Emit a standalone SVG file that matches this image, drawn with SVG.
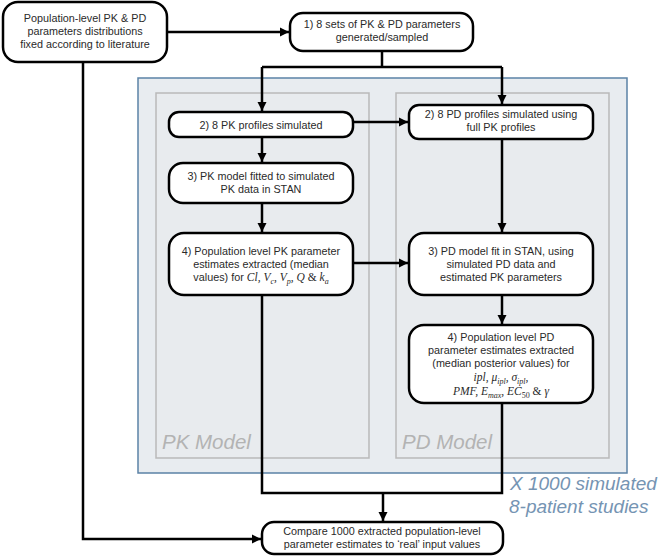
<svg xmlns="http://www.w3.org/2000/svg" width="668" height="556" viewBox="0 0 668 556">
<style>
.node{fill:#fff;stroke:#000;stroke-width:2.5}
.t{font-family:"Liberation Sans",Arial,sans-serif;font-size:10.8px;fill:#2a2a2a;text-anchor:middle}
.m{font-family:"Liberation Serif","Times New Roman",serif;font-style:italic;font-size:11.5px}
.u{font-family:"Liberation Serif","Times New Roman",serif;font-style:normal;font-size:11.5px}
.s{font-size:8px}
.c{fill:none;stroke:#000;stroke-width:2.5}
.lbl{font-family:"Liberation Sans",Arial,sans-serif;font-style:italic}
</style>
<defs>
<marker id="ah" markerUnits="userSpaceOnUse" markerWidth="10" markerHeight="10" refX="9" refY="5" orient="auto">
<path d="M0,0.5 L9,5 L0,9.5 Z" fill="#000"/>
</marker>
</defs>
<rect width="668" height="556" fill="#fff"/>
<g id="outer">
<rect x="138" y="78" width="489" height="395" fill="#e8ecf0" stroke="#5b82a6" stroke-width="1.5"/>
<rect x="156" y="93" width="213" height="365" fill="#e8ebee" stroke="#b9b9b9" stroke-width="1.5"/>
<rect x="396" y="93" width="213" height="365" fill="#e8ebee" stroke="#b9b9b9" stroke-width="1.5"/>
<text class="lbl" x="162" y="449" font-size="20.5" fill="#b3b3b3">PK Model</text>
<text class="lbl" x="402" y="449" font-size="20.5" fill="#b3b3b3">PD Model</text>
<text class="lbl" x="510" y="490" font-size="19" fill="#7594b3">X 1000 simulated</text>
<text class="lbl" x="509" y="513" font-size="19" fill="#7594b3">8-patient studies</text>
</g>
<g id="connectors">
<path class="c" d="M167,32 H289" marker-end="url(#ah)"/>
<path class="c" d="M382,51 V67"/>
<path class="c" d="M262,67 H502"/>
<path class="c" d="M262,67 V111" marker-end="url(#ah)"/>
<path class="c" d="M502,67 V104" marker-end="url(#ah)"/>
<path class="c" d="M262,137 V162" marker-end="url(#ah)"/>
<path class="c" d="M262,203 V232" marker-end="url(#ah)"/>
<path class="c" d="M353,122 H408" marker-end="url(#ah)"/>
<path class="c" d="M353,263 H408" marker-end="url(#ah)"/>
<path class="c" d="M502,139 V232" marker-end="url(#ah)"/>
<path class="c" d="M502,295 V324" marker-end="url(#ah)"/>
<path class="c" d="M262,295 V493 H502 V403"/>
<path class="c" d="M383,493 V521" marker-end="url(#ah)"/>
<path class="c" d="M83,62 V539 H261" marker-end="url(#ah)"/>
</g>
<g id="nodeA">
<rect class="node" x="3" y="2" width="164" height="60" rx="15"/>
<text class="t" x="85" y="22">Population-level PK &amp; PD</text>
<text class="t" x="85" y="35">parameters distributions</text>
<text class="t" x="85" y="48">fixed according to literature</text>
</g>
<g id="step1">
<rect class="node" x="290" y="13" width="183" height="38" rx="13"/>
<text class="t" x="382" y="28">1) 8 sets of PK &amp; PD parameters</text>
<text class="t" x="382" y="41">generated/sampled</text>
</g>
<g id="pk2">
<rect class="node" x="169" y="112" width="184" height="25" rx="10"/>
<text class="t" x="261" y="128.5">2) 8 PK profiles simulated</text>
</g>
<g id="pk3">
<rect class="node" x="169" y="163" width="184" height="40" rx="14"/>
<text class="t" x="261" y="180">3) PK model fitted to simulated</text>
<text class="t" x="261" y="193">PK data in STAN</text>
</g>
<g id="pk4">
<rect class="node" x="169" y="233" width="184" height="62" rx="15"/>
<text class="t" x="261" y="255">4) Population level PK parameter</text>
<text class="t" x="261" y="268">estimates extracted (median</text>
<text class="t" x="261" y="281">values) for <tspan class="m">Cl, V</tspan><tspan class="m s" dy="2.5">c</tspan><tspan class="m" dy="-2.5">, V</tspan><tspan class="m s" dy="2.5">p</tspan><tspan class="m" dy="-2.5">, Q </tspan><tspan class="u">&amp; </tspan><tspan class="m">k</tspan><tspan class="m s" dy="2.5">a</tspan></text>
</g>
<g id="pd2">
<rect class="node" x="409" y="105" width="184" height="34" rx="10"/>
<text class="t" x="501" y="118">2) 8 PD profiles simulated using</text>
<text class="t" x="501" y="131">full PK profiles</text>
</g>
<g id="pd3">
<rect class="node" x="409" y="233" width="184" height="62" rx="15"/>
<text class="t" x="501" y="255">3) PD model fit in STAN, using</text>
<text class="t" x="501" y="268">simulated PD data and</text>
<text class="t" x="501" y="281">estimated PK parameters</text>
</g>
<g id="pd4">
<rect class="node" x="409" y="325" width="184" height="78" rx="15"/>
<text class="t" x="501" y="341">4) Population level PD</text>
<text class="t" x="501" y="354">parameter estimates extracted</text>
<text class="t" x="501" y="367">(median posterior values) for</text>
<text class="t" x="501" y="381"><tspan class="m">ipl, μ</tspan><tspan class="m s" dy="2.5">ipl</tspan><tspan class="m" dy="-2.5">, σ</tspan><tspan class="m s" dy="2.5">ipl</tspan><tspan class="m" dy="-2.5">,</tspan></text>
<text class="t" x="501" y="395"><tspan class="m">PMF, E</tspan><tspan class="m s" dy="2.5">max</tspan><tspan class="m" dy="-2.5">, EC</tspan><tspan class="u s" dy="2.5">50</tspan><tspan class="u" dy="-2.5"> &amp; </tspan><tspan class="m">γ</tspan></text>
</g>
<g id="compare">
<rect class="node" x="262" y="522" width="241" height="32" rx="12"/>
<text class="t" x="382" y="535" font-size="10.3">Compare 1000 extracted population-level</text>
<text class="t" x="382" y="548" font-size="10.3">parameter estimates to ‘real’ input values</text>
</g>
</svg>
